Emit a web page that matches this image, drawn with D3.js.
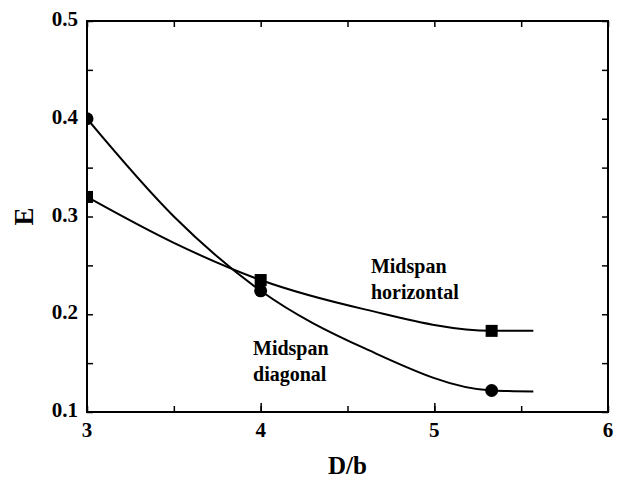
<!DOCTYPE html>
<html><head><meta charset="utf-8">
<script src="https://cdn.jsdelivr.net/npm/d3@7"></script>
<style>body{margin:0;background:#fff}svg{display:block}
text{font-family:"Liberation Serif","Times New Roman",Times,serif;font-weight:bold;fill:#000}</style>
</head><body>
<script>
// Data
const xTicks = [3, 4, 5, 6];
const yTicks = [0.1, 0.2, 0.3, 0.4, 0.5];
const diagonalX = [3, 4, 5.33];
const diagonalE = [0.400, 0.224, 0.122];
const horizontalX = [3, 4, 5.33];
const horizontalE = [0.320, 0.235, 0.183];
// fitted curve traces
const diagonalCurveX = [3, 3.5, 4, 4.6, 5.33, 5.57];
const diagonalCurveE = [0.400, 0.300, 0.224, 0.165, 0.122, 0.121];
const horizontalCurveX = [3, 3.5, 4, 4.6, 5.33, 5.57];
const horizontalCurveE = [0.320, 0.273, 0.235, 0.205, 0.183, 0.183];
const labels = [
  {lines: ["Midspan", "horizontal"], x: 4.635, y: 0.242},
  {lines: ["Midspan", "diagonal"], x: 3.956, y: 0.158}
];

const W = 626, H = 483;
const m = {l: 87, r: 608, t: 21, b: 412};
const svg = d3.select("body").append("svg").attr("width", W).attr("height", H);
const x = d3.scaleLinear().domain([3, 6]).range([m.l, m.r]);
const y = d3.scaleLinear().domain([0.1, 0.5]).range([m.b, m.t]);

svg.append("defs").append("clipPath").attr("id", "clip")
  .append("rect").attr("x", m.l).attr("y", m.t).attr("width", m.r - m.l).attr("height", m.b - m.t);

// Axes: ticks pointing inward
const minorX = d3.range(3, 6.01, 0.5);
const minorY = d3.range(0.1, 0.501, 0.05);
function styleAxis(g) {
  g.select(".domain").remove();
  g.selectAll("line").attr("stroke", "#000").attr("stroke-width", 1.5);
}
svg.append("g").attr("transform", `translate(0,${m.b})`)
  .call(d3.axisBottom(x).tickValues(minorX).tickSizeInner(-6).tickSizeOuter(0).tickFormat(""))
  .call(styleAxis);
svg.append("g").attr("transform", `translate(0,${m.b})`)
  .call(d3.axisBottom(x).tickValues(xTicks.slice(1, 3)).tickSizeInner(-9).tickSizeOuter(0).tickFormat(""))
  .call(styleAxis);
svg.append("g").attr("transform", `translate(0,${m.t})`)
  .call(d3.axisTop(x).tickValues(minorX).tickSizeInner(-6).tickSizeOuter(0).tickFormat(""))
  .call(styleAxis);
svg.append("g").attr("transform", `translate(${m.l},0)`)
  .call(d3.axisLeft(y).tickValues(minorY).tickSizeInner(-6).tickSizeOuter(0).tickFormat(""))
  .call(styleAxis);
svg.append("g").attr("transform", `translate(${m.r},0)`)
  .call(d3.axisRight(y).tickValues(minorY).tickSizeInner(-6).tickSizeOuter(0).tickFormat(""))
  .call(styleAxis);

// frame
svg.append("rect").attr("x", m.l).attr("y", m.t).attr("width", m.r - m.l).attr("height", m.b - m.t)
  .attr("fill", "none").attr("stroke", "#000").attr("stroke-width", 2);

// tick labels
svg.append("g").selectAll("text").data(xTicks).join("text")
  .attr("x", d => x(d)).attr("y", m.b + 25).attr("text-anchor", "middle")
  .attr("font-size", 21).text(d => d);
svg.append("g").selectAll("text").data(yTicks).join("text")
  .attr("x", m.l - 9).attr("y", d => y(d) + 5).attr("text-anchor", "end")
  .attr("font-size", 21).text(d => d.toFixed(1));

// axis titles
svg.append("text").attr("x", (m.l + m.r) / 2).attr("y", 474).attr("text-anchor", "middle")
  .attr("font-size", 25).text("D/b");
svg.append("text").attr("transform", `translate(33,${(m.t + m.b) / 2}) rotate(-90)`).attr("text-anchor", "middle")
  .attr("font-size", 27).text("E");

// curves
const line = d3.line().x(d => x(d[0])).y(d => y(d[1])).curve(d3.curveMonotoneX);
const plot = svg.append("g").attr("clip-path", "url(#clip)");
plot.append("path").datum(diagonalCurveX.map((v, i) => [v, diagonalCurveE[i]]))
  .attr("d", line).attr("fill", "none").attr("stroke", "#000").attr("stroke-width", 2);
plot.append("path").datum(horizontalCurveX.map((v, i) => [v, horizontalCurveE[i]]))
  .attr("d", line).attr("fill", "none").attr("stroke", "#000").attr("stroke-width", 2);

// markers
plot.selectAll("circle").data(diagonalX.map((v, i) => [v, diagonalE[i]])).join("circle")
  .attr("cx", d => x(d[0])).attr("cy", d => y(d[1])).attr("r", 6.5).attr("fill", "#000");
plot.selectAll("rect.sq").data(horizontalX.map((v, i) => [v, horizontalE[i]])).join("rect")
  .attr("class", "sq").attr("x", d => x(d[0]) - 6).attr("y", d => y(d[1]) - 6)
  .attr("width", 12).attr("height", 12).attr("fill", "#000");

// annotations
labels.forEach(l => {
  const t = svg.append("text").attr("font-size", 20);
  l.lines.forEach((s, i) => t.append("tspan").attr("x", x(l.x)).attr("y", y(l.y) + i * 26).text(s));
});
</script>
</body></html>
